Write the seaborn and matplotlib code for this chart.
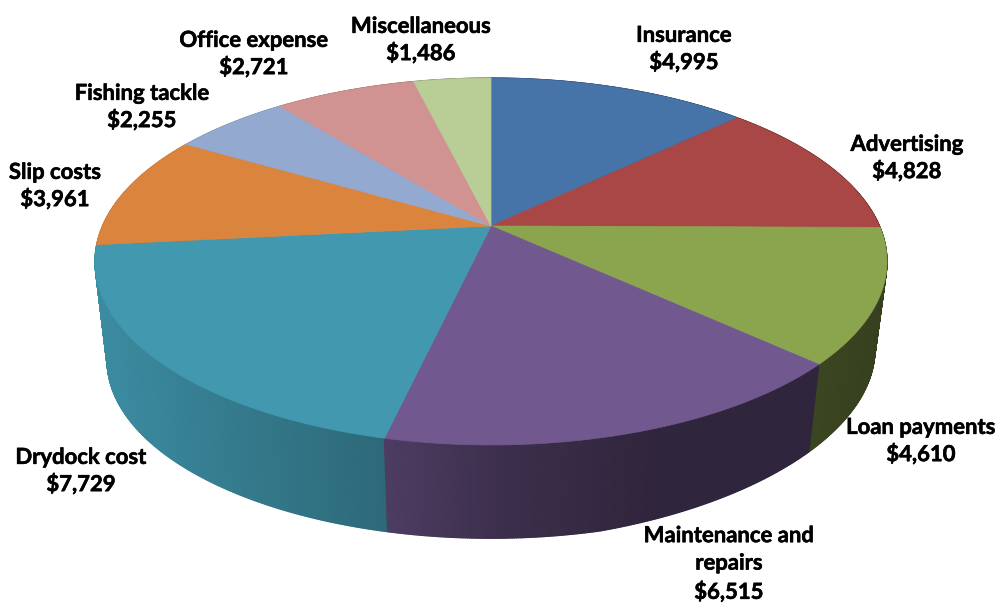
import numpy as np
import matplotlib
matplotlib.use("Agg")
import matplotlib.pyplot as plt
import matplotlib.patheffects as pe
from matplotlib.collections import PolyCollection
from matplotlib.patches import Polygon
import seaborn as sns

categories = ["Insurance", "Advertising", "Loan payments", "Maintenance and\nrepairs",
              "Drydock cost", "Slip costs", "Fishing tackle", "Office expense", "Miscellaneous"]
values = [4995, 4828, 4610, 6515, 7729, 3961, 2255, 2721, 1486]
colors = ["#4673A8", "#A84745", "#8BA54F", "#71588F", "#4198AF",
          "#DB843D", "#93A9CF", "#D19392", "#B9CD96"]
label_xy = [(684, 49), (907, 158), (921, 441), (729, 564), (81, 471),
            (55, 186), (142, 107), (254, 54), (421, 40)]

sns.set_theme(style="white")
plt.rcParams["font.family"] = ["Lato", "DejaVu Sans"]
palette = sns.color_palette(colors)

fig = plt.figure(figsize=(10, 6.04), dpi=100)
ax = fig.add_axes([0, 0, 1, 1])
wedges, _ = ax.pie(values, colors=palette, startangle=90, counterclock=False, radius=1)
ax.set_aspect("auto")
ax.set_xlim(0, 1000)
ax.set_ylim(604, 0)
ax.axis("off")


def project(theta_deg, cx, cy, a, b, k, lift=0.0):
    t = np.radians(theta_deg)
    x, y = np.cos(t), np.sin(t)
    w = 1 + k * y
    X = cx + a * x / w
    Y = cy - b * y / w
    return X, Y - lift * np.maximum(0, X - 600)


TOP = (491, 226, 388.5, 176.6, 0.1935)
BOTTOM = (491, 326, 376.6, 171.2, 0.1935, 0.04)
shade_x = [95, 200, 387, 500, 650, 808, 890]
shade_f = [0.93, 0.84, 0.69, 0.53, 0.42, 0.42, 0.38]

angles = [(w.theta1, w.theta2) for w in wedges]
for w in wedges:
    w.remove()

quads, cols, depth = [], [], []
for (t1, t2), col in zip(angles, palette):
    th = np.arange(t1, t2 + 0.25, 0.25)
    th[-1] = t2
    xt, yt = project(th, *TOP)
    xb, yb = project(th, *BOTTOM)
    for i in range(len(th) - 1):
        quads.append([(xt[i], yt[i]), (xt[i + 1], yt[i + 1]), (xb[i + 1], yb[i + 1]), (xb[i], yb[i])])
        f = np.interp((xb[i] + xb[i + 1]) / 2, shade_x, shade_f)
        cols.append(tuple(np.array(col) * f))
        depth.append(yb[i])
order = np.argsort(depth)
ax.add_collection(PolyCollection([quads[i] for i in order], facecolors=[cols[i] for i in order],
                                 edgecolors=[cols[i] for i in order], linewidths=0.9, zorder=1))

for (t1, t2), col in zip(angles, palette):
    th = np.linspace(t1, t2, max(3, int((t2 - t1) * 2)))
    xt, yt = project(th, *TOP)
    pts = [(TOP[0], TOP[1])] + list(zip(xt, yt))
    ax.add_patch(Polygon(pts, closed=True, facecolor=col, edgecolor=col, linewidth=0.5, zorder=2))

for name, v, (x, y) in zip(categories, values, label_xy):
    spacing = 1.38 if "\n" in name else 1.27
    ax.text(x, y, f"{name}\n${v:,}", ha="center", va="center", fontsize=15.9,
            fontweight="bold", color="black", linespacing=spacing, zorder=3,
            path_effects=[pe.withStroke(linewidth=0.4, foreground="black")])

fig.savefig("out.png", dpi=100, facecolor="white")
